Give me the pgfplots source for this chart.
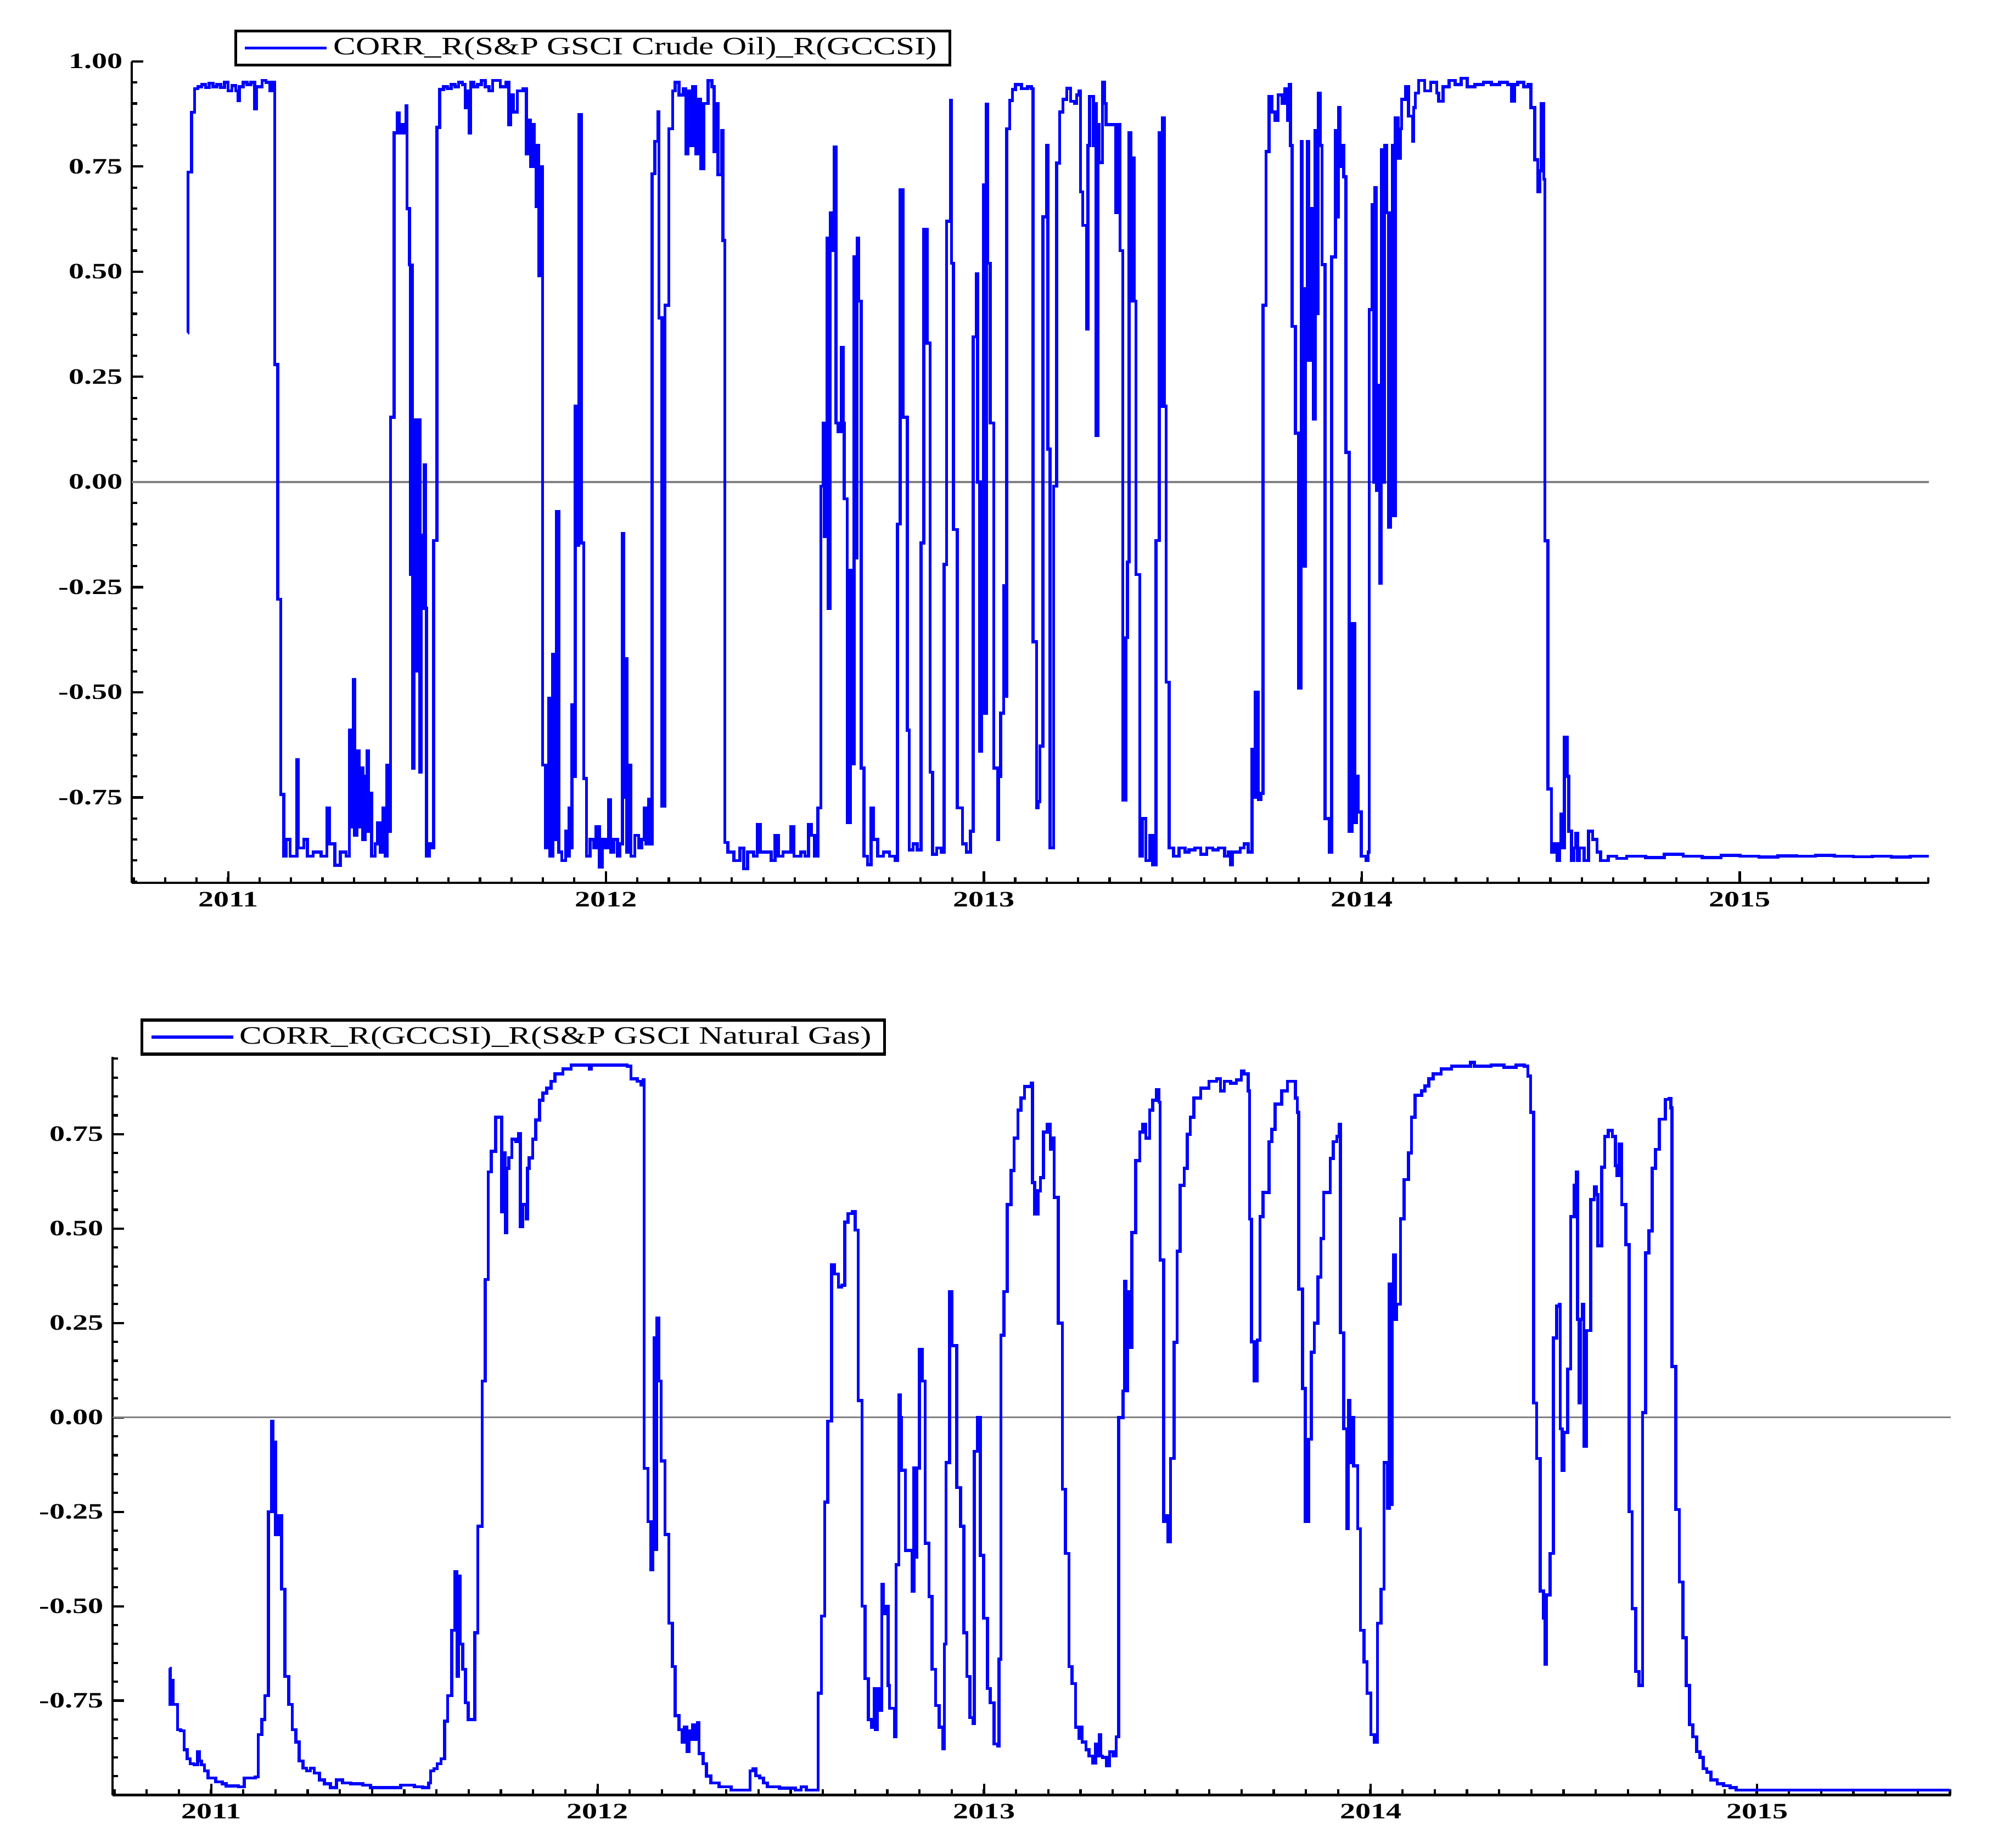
\documentclass[border=0pt]{standalone}
\usepackage{fontspec}
\setmainfont{Liberation Serif}
\newfontfamily\legfont[FakeStretch=1.34]{Liberation Serif}
\newfontfamily\tickfont[FakeStretch=1.4]{Liberation Serif}
\usepackage{pgfplots}
\pgfplotsset{compat=1.18}

% common look of both panels
\pgfplotsset{corrax/.style={
  scale only axis,
  anchor=south west,
  xmin=2010.745, xmax=2015.5,
  axis lines=left,
  axis line style={-, line width=0.9pt},
  tick align=inside,
  xtick={2011,...,2015},
  minor xtick={2010.75,2010.8333,...,2015.5},
  major tick length=4.5pt, minor tick length=2.2pt,
  tick style={black, line width=0.9pt},
  /pgf/number format/assume math mode=true,
  tick label style={font=\tickfont\bfseries\fontsize{8.6}{10}\selectfont},
  xticklabel style={/pgf/number format/1000 sep=},
  yticklabel style={/pgf/number format/.cd, fixed, fixed zerofill, precision=2},
  legend cell align=left,
  legend style={draw=black, line width=1.1pt, anchor=south west,
    font=\legfont\fontsize{9.8}{11}\selectfont, inner xsep=3pt, inner ysep=0.5pt},
}}
\pgfplotsset{corrline/.style={blue, line width=1.2pt, const plot,
  legend image code/.code={\draw[##1] (0pt,0pt) -- (32pt,0pt);}}}

\begin{document}
\begin{tikzpicture}
\path[use as bounding box] (0,0) rectangle (781pt,-722pt);

% ---------- upper panel: crude oil vs GCCSI
\begin{axis}[corrax,
  at={(51.5pt,-345pt)}, width=702.5pt, height=321pt,
  ymin=-0.953, ymax=1,
  ytick={-0.75,-0.5,...,1}, minor ytick={-0.95,-0.9,...,1},
  legend style={at={(0.057,0.9938)}},
]
\addplot[gray, line width=0.7pt, forget plot] coordinates {(2010.745,0) (2015.5,0)};
\addplot[corrline] table {
2010.893 0.355
2010.894 0.737
2010.903 0.879
2010.911 0.935
2010.920 0.940
2010.930 0.945
2010.940 0.938
2010.950 0.948
2010.960 0.940
2010.970 0.945
2010.980 0.938
2010.990 0.950
2011.000 0.930
2011.010 0.942
2011.020 0.930
2011.026 0.907
2011.030 0.940
2011.040 0.950
2011.050 0.945
2011.060 0.950
2011.070 0.887
2011.075 0.940
2011.090 0.955
2011.100 0.950
2011.110 0.930
2011.115 0.950
2011.123 0.279
2011.131 -0.279
2011.139 -0.743
2011.147 -0.889
2011.154 -0.850
2011.164 -0.890
2011.182 -0.660
2011.186 -0.870
2011.200 -0.850
2011.210 -0.890
2011.225 -0.880
2011.246 -0.890
2011.261 -0.775
2011.268 -0.860
2011.282 -0.911
2011.297 -0.880
2011.312 -0.890
2011.321 -0.590
2011.326 -0.820
2011.331 -0.470
2011.335 -0.840
2011.340 -0.640
2011.346 -0.820
2011.350 -0.680
2011.356 -0.850
2011.362 -0.700
2011.367 -0.640
2011.371 -0.830
2011.377 -0.740
2011.380 -0.890
2011.389 -0.860
2011.395 -0.810
2011.402 -0.880
2011.410 -0.775
2011.415 -0.890
2011.420 -0.673
2011.427 -0.830
2011.430 0.154
2011.439 0.830
2011.447 0.877
2011.453 0.830
2011.461 0.850
2011.466 0.830
2011.471 0.894
2011.473 0.650
2011.480 0.516
2011.482 -0.220
2011.486 0.516
2011.488 -0.680
2011.492 0.148
2011.497 -0.450
2011.501 0.148
2011.507 -0.690
2011.511 -0.126
2011.515 -0.300
2011.518 0.040
2011.522 -0.300
2011.525 -0.889
2011.533 -0.860
2011.541 -0.870
2011.544 -0.139
2011.552 0.843
2011.560 0.933
2011.570 0.940
2011.580 0.935
2011.590 0.945
2011.600 0.940
2011.610 0.950
2011.620 0.945
2011.627 0.890
2011.632 0.930
2011.638 0.830
2011.642 0.950
2011.650 0.940
2011.660 0.945
2011.670 0.955
2011.680 0.940
2011.690 0.930
2011.700 0.955
2011.720 0.940
2011.735 0.950
2011.743 0.850
2011.748 0.920
2011.755 0.880
2011.765 0.930
2011.780 0.935
2011.789 0.780
2011.795 0.860
2011.800 0.750
2011.805 0.850
2011.810 0.750
2011.815 0.655
2011.818 0.800
2011.822 0.490
2011.828 0.750
2011.832 -0.673
2011.840 -0.870
2011.848 -0.514
2011.852 -0.890
2011.859 -0.410
2011.863 -0.850
2011.868 -0.070
2011.875 -0.880
2011.883 -0.900
2011.893 -0.830
2011.897 -0.890
2011.902 -0.775
2011.906 -0.870
2011.910 -0.530
2011.914 -0.700
2011.918 0.180
2011.922 -0.150
2011.928 0.873
2011.934 -0.145
2011.941 -0.705
2011.948 -0.890
2011.958 -0.850
2011.968 -0.870
2011.974 -0.820
2011.982 -0.915
2011.990 -0.850
2011.998 -0.870
2012.006 -0.756
2012.012 -0.880
2012.020 -0.850
2012.030 -0.890
2012.037 -0.860
2012.043 -0.122
2012.047 -0.750
2012.050 -0.420
2012.055 -0.880
2012.060 -0.673
2012.066 -0.890
2012.076 -0.840
2012.086 -0.870
2012.094 -0.850
2012.101 -0.775
2012.106 -0.860
2012.112 -0.755
2012.119 -0.860
2012.122 0.733
2012.129 0.810
2012.137 0.880
2012.140 0.390
2012.148 -0.770
2012.156 0.420
2012.166 0.840
2012.176 0.930
2012.183 0.950
2012.193 0.920
2012.204 0.935
2012.211 0.780
2012.216 0.930
2012.224 0.800
2012.229 0.940
2012.237 0.780
2012.244 0.910
2012.250 0.745
2012.258 0.900
2012.270 0.955
2012.280 0.940
2012.286 0.785
2012.293 0.900
2012.296 0.730
2012.306 0.835
2012.309 0.574
2012.314 -0.857
2012.322 -0.880
2012.338 -0.900
2012.354 -0.870
2012.364 -0.920
2012.374 -0.880
2012.390 -0.890
2012.400 -0.815
2012.408 -0.880
2012.421 -0.880
2012.437 -0.900
2012.447 -0.840
2012.456 -0.890
2012.468 -0.880
2012.481 -0.880
2012.489 -0.820
2012.497 -0.890
2012.515 -0.880
2012.526 -0.890
2012.536 -0.815
2012.543 -0.840
2012.552 -0.890
2012.560 -0.775
2012.568 -0.010
2012.575 0.140
2012.578 -0.130
2012.581 0.140
2012.585 0.580
2012.588 -0.300
2012.593 0.640
2012.597 0.550
2012.604 0.796
2012.608 0.140
2012.614 0.120
2012.623 0.320
2012.627 0.140
2012.630 -0.040
2012.638 -0.810
2012.646 -0.210
2012.650 -0.670
2012.656 0.535
2012.659 -0.180
2012.664 0.580
2012.668 0.430
2012.675 -0.680
2012.682 -0.890
2012.692 -0.910
2012.701 -0.775
2012.708 -0.850
2012.719 -0.890
2012.734 -0.880
2012.750 -0.890
2012.765 -0.900
2012.771 -0.100
2012.778 0.695
2012.786 0.154
2012.797 -0.590
2012.802 -0.875
2012.812 -0.860
2012.823 -0.875
2012.833 -0.145
2012.841 0.600
2012.849 0.330
2012.857 -0.690
2012.864 -0.885
2012.875 -0.870
2012.887 -0.880
2012.894 -0.196
2012.901 0.620
2012.911 0.907
2012.914 0.520
2012.919 -0.113
2012.929 -0.775
2012.943 -0.860
2012.953 -0.880
2012.964 -0.830
2012.971 0.345
2012.979 0.495
2012.983 0.000
2012.988 -0.640
2012.993 0.000
2012.998 0.707
2013.002 -0.550
2013.006 0.898
2013.010 0.520
2013.016 0.140
2013.026 -0.680
2013.036 -0.850
2013.039 -0.700
2013.044 -0.550
2013.052 -0.247
2013.056 -0.510
2013.060 0.840
2013.068 0.907
2013.075 0.933
2013.083 0.945
2013.099 0.935
2013.115 0.940
2013.125 0.935
2013.130 -0.380
2013.139 -0.775
2013.143 -0.760
2013.148 -0.628
2013.156 0.630
2013.165 0.800
2013.169 0.078
2013.175 -0.870
2013.184 -0.010
2013.192 0.758
2013.200 0.880
2013.209 0.910
2013.219 0.936
2013.229 0.905
2013.240 0.900
2013.245 0.920
2013.252 0.930
2013.255 0.690
2013.261 0.610
2013.271 0.364
2013.275 0.800
2013.279 0.917
2013.289 0.800
2013.292 0.900
2013.297 0.110
2013.301 0.850
2013.304 0.760
2013.313 0.950
2013.318 0.900
2013.323 0.850
2013.339 0.850
2013.349 0.640
2013.352 0.850
2013.360 0.550
2013.367 -0.756
2013.375 -0.370
2013.379 -0.190
2013.384 0.830
2013.388 0.430
2013.393 0.770
2013.397 0.430
2013.402 -0.220
2013.412 -0.890
2013.419 -0.800
2013.428 -0.900
2013.438 -0.840
2013.446 -0.910
2013.455 -0.139
2013.464 0.830
2013.468 0.180
2013.472 0.866
2013.477 0.180
2013.482 -0.476
2013.490 -0.870
2013.501 -0.890
2013.516 -0.870
2013.532 -0.880
2013.542 -0.875
2013.558 -0.870
2013.573 -0.885
2013.589 -0.870
2013.605 -0.875
2013.620 -0.870
2013.636 -0.890
2013.647 -0.880
2013.652 -0.910
2013.657 -0.880
2013.667 -0.880
2013.678 -0.870
2013.688 -0.860
2013.699 -0.880
2013.709 -0.635
2013.714 -0.750
2013.718 -0.500
2013.726 -0.755
2013.732 -0.740
2013.738 0.420
2013.746 0.786
2013.754 0.917
2013.762 0.880
2013.770 0.860
2013.778 0.920
2013.788 0.900
2013.796 0.935
2013.803 0.860
2013.807 0.945
2013.811 0.800
2013.815 0.370
2013.824 0.116
2013.832 -0.490
2013.839 0.810
2013.842 -0.200
2013.850 0.460
2013.855 0.810
2013.859 0.290
2013.863 0.450
2013.866 0.650
2013.871 0.150
2013.876 0.835
2013.880 0.400
2013.884 0.924
2013.889 0.800
2013.894 0.517
2013.902 -0.800
2013.913 -0.880
2013.920 0.535
2013.930 0.835
2013.934 0.630
2013.938 0.890
2013.942 0.750
2013.947 0.800
2013.952 0.726
2013.957 0.070
2013.966 -0.830
2013.973 -0.336
2013.981 -0.810
2013.985 -0.700
2013.989 -0.785
2013.998 -0.890
2014.011 -0.900
2014.016 -0.880
2014.019 0.410
2014.027 0.660
2014.031 0.000
2014.034 0.700
2014.038 -0.020
2014.043 0.230
2014.047 -0.240
2014.051 0.790
2014.055 0.000
2014.060 0.800
2014.065 0.640
2014.070 -0.107
2014.075 0.640
2014.080 0.800
2014.084 -0.080
2014.088 0.866
2014.096 0.770
2014.101 0.840
2014.105 0.910
2014.116 0.940
2014.123 0.870
2014.134 0.810
2014.137 0.890
2014.141 0.925
2014.150 0.955
2014.166 0.930
2014.182 0.950
2014.198 0.925
2014.203 0.905
2014.214 0.940
2014.230 0.955
2014.246 0.945
2014.262 0.960
2014.278 0.940
2014.299 0.945
2014.321 0.950
2014.342 0.945
2014.364 0.950
2014.385 0.945
2014.396 0.905
2014.403 0.945
2014.412 0.950
2014.428 0.940
2014.439 0.945
2014.447 0.890
2014.457 0.766
2014.465 0.690
2014.470 0.740
2014.474 0.900
2014.481 0.720
2014.484 -0.140
2014.492 -0.730
2014.501 -0.880
2014.508 -0.860
2014.516 -0.900
2014.522 -0.860
2014.526 -0.790
2014.530 -0.870
2014.535 -0.607
2014.543 -0.700
2014.547 -0.830
2014.554 -0.900
2014.560 -0.870
2014.565 -0.835
2014.570 -0.900
2014.575 -0.870
2014.588 -0.900
2014.599 -0.830
2014.610 -0.850
2014.622 -0.880
2014.631 -0.900
2014.652 -0.890
2014.674 -0.895
2014.700 -0.890
2014.750 -0.893
2014.800 -0.885
2014.850 -0.890
2014.900 -0.893
2014.950 -0.888
2015.000 -0.890
2015.050 -0.892
2015.100 -0.889
2015.150 -0.890
2015.200 -0.888
2015.250 -0.890
2015.300 -0.891
2015.350 -0.890
2015.400 -0.892
2015.450 -0.890
2015.495 -0.887
};
\addlegendentry{CORR\_R(S\&P GSCI Crude Oil)\_R(GCCSI)}
\end{axis}

% ---------- lower panel: GCCSI vs natural gas
\begin{axis}[corrax,
  at={(44pt,-701.5pt)}, width=718.5pt, height=288.5pt,
  ymin=-1, ymax=0.955,
  ytick={-0.75,-0.5,...,0.75}, minor ytick={-1,-0.95,...,0.95},
  legend style={at={(0.0153,1.0017)}},
]
\addplot[gray, line width=0.7pt, forget plot] coordinates {(2010.745,0) (2015.5,0)};
\addplot[corrline] table {
2010.892 -0.664
2010.894 -0.760
2010.897 -0.696
2010.902 -0.760
2010.913 -0.827
2010.921 -0.830
2010.930 -0.880
2010.938 -0.904
2010.946 -0.917
2010.956 -0.920
2010.965 -0.885
2010.970 -0.910
2010.975 -0.920
2010.983 -0.936
2010.992 -0.955
2011.004 -0.955
2011.012 -0.965
2011.029 -0.970
2011.039 -0.976
2011.060 -0.975
2011.070 -0.978
2011.086 -0.955
2011.102 -0.955
2011.114 -0.952
2011.122 -0.840
2011.131 -0.800
2011.139 -0.737
2011.148 -0.250
2011.156 -0.010
2011.160 -0.250
2011.164 -0.065
2011.167 -0.310
2011.174 -0.260
2011.182 -0.455
2011.191 -0.686
2011.201 -0.760
2011.210 -0.827
2011.219 -0.860
2011.228 -0.910
2011.238 -0.929
2011.247 -0.936
2011.257 -0.929
2011.267 -0.942
2011.280 -0.960
2011.293 -0.970
2011.309 -0.980
2011.324 -0.960
2011.340 -0.968
2011.361 -0.970
2011.392 -0.974
2011.412 -0.980
2011.444 -0.980
2011.464 -0.980
2011.490 -0.974
2011.526 -0.978
2011.547 -0.980
2011.563 -0.968
2011.568 -0.936
2011.576 -0.930
2011.585 -0.917
2011.595 -0.904
2011.604 -0.804
2011.612 -0.737
2011.622 -0.564
2011.630 -0.408
2011.636 -0.686
2011.640 -0.420
2011.644 -0.600
2011.651 -0.667
2011.658 -0.756
2011.665 -0.800
2011.674 -0.800
2011.682 -0.570
2011.690 -0.288
2011.701 0.096
2011.709 0.365
2011.717 0.650
2011.725 0.705
2011.736 0.795
2011.746 0.795
2011.752 0.545
2011.756 0.700
2011.761 0.490
2011.765 0.660
2011.770 0.688
2011.778 0.737
2011.788 0.730
2011.796 0.752
2011.800 0.506
2011.806 0.564
2011.815 0.525
2011.818 0.660
2011.823 0.687
2011.832 0.737
2011.840 0.788
2011.850 0.840
2011.858 0.859
2011.868 0.872
2011.879 0.890
2011.889 0.910
2011.910 0.923
2011.931 0.933
2011.978 0.923
2011.984 0.933
2012.034 0.933
2012.076 0.930
2012.086 0.897
2012.102 0.890
2012.112 0.880
2012.118 0.894
2012.120 -0.135
2012.130 -0.276
2012.138 -0.404
2012.142 -0.282
2012.146 0.210
2012.150 -0.350
2012.153 0.263
2012.158 0.096
2012.164 -0.115
2012.174 -0.310
2012.184 -0.545
2012.193 -0.660
2012.200 -0.790
2012.210 -0.827
2012.219 -0.860
2012.224 -0.820
2012.231 -0.885
2012.236 -0.830
2012.241 -0.853
2012.246 -0.814
2012.254 -0.853
2012.258 -0.808
2012.262 -0.890
2012.273 -0.917
2012.281 -0.950
2012.293 -0.968
2012.314 -0.978
2012.345 -0.987
2012.389 -0.987
2012.394 -0.936
2012.401 -0.930
2012.409 -0.949
2012.419 -0.955
2012.429 -0.968
2012.439 -0.978
2012.470 -0.982
2012.511 -0.987
2012.526 -0.978
2012.540 -0.987
2012.570 -0.730
2012.579 -0.526
2012.587 -0.224
2012.595 -0.010
2012.605 0.404
2012.613 0.380
2012.623 0.346
2012.631 0.350
2012.639 0.517
2012.648 0.540
2012.659 0.545
2012.666 0.496
2012.674 0.045
2012.684 -0.500
2012.692 -0.692
2012.700 -0.800
2012.709 -0.820
2012.715 -0.718
2012.719 -0.827
2012.723 -0.718
2012.727 -0.775
2012.735 -0.442
2012.739 -0.520
2012.743 -0.500
2012.751 -0.710
2012.755 -0.770
2012.759 -0.770
2012.768 -0.846
2012.772 -0.390
2012.779 0.060
2012.783 0.000
2012.786 -0.140
2012.796 -0.352
2012.806 -0.352
2012.814 -0.460
2012.818 -0.134
2012.822 -0.370
2012.826 -0.134
2012.832 0.180
2012.839 0.096
2012.847 -0.333
2012.857 -0.474
2012.865 -0.667
2012.874 -0.763
2012.883 -0.820
2012.893 -0.878
2012.897 -0.600
2012.901 -0.120
2012.910 0.333
2012.916 0.190
2012.929 -0.186
2012.939 -0.288
2012.947 -0.570
2012.955 -0.686
2012.963 -0.795
2012.971 -0.810
2012.974 -0.090
2012.982 0.000
2012.990 -0.365
2012.998 -0.532
2013.008 -0.718
2013.015 -0.756
2013.025 -0.865
2013.035 -0.870
2013.038 -0.640
2013.043 0.218
2013.051 0.333
2013.059 0.564
2013.069 0.654
2013.077 0.740
2013.087 0.814
2013.095 0.846
2013.104 0.876
2013.122 0.885
2013.125 0.622
2013.130 0.538
2013.139 0.600
2013.145 0.635
2013.153 0.756
2013.163 0.776
2013.171 0.710
2013.178 0.740
2013.181 0.583
2013.191 0.250
2013.202 -0.190
2013.210 -0.360
2013.219 -0.660
2013.227 -0.705
2013.236 -0.820
2013.245 -0.850
2013.249 -0.820
2013.253 -0.860
2013.263 -0.880
2013.271 -0.897
2013.281 -0.915
2013.288 -0.865
2013.292 -0.897
2013.297 -0.840
2013.301 -0.897
2013.306 -0.900
2013.316 -0.923
2013.324 -0.885
2013.333 -0.897
2013.341 -0.846
2013.348 0.000
2013.359 0.070
2013.363 0.360
2013.367 0.070
2013.371 0.333
2013.375 0.186
2013.382 0.490
2013.392 0.680
2013.402 0.756
2013.410 0.776
2013.418 0.740
2013.428 0.814
2013.436 0.840
2013.446 0.868
2013.452 0.835
2013.455 0.417
2013.464 -0.276
2013.470 -0.260
2013.475 -0.330
2013.482 -0.109
2013.491 0.199
2013.499 0.440
2013.507 0.615
2013.517 0.660
2013.525 0.750
2013.533 0.795
2013.542 0.846
2013.560 0.872
2013.581 0.890
2013.601 0.897
2013.611 0.865
2013.621 0.890
2013.637 0.885
2013.652 0.894
2013.665 0.917
2013.672 0.910
2013.683 0.865
2013.686 0.525
2013.691 0.200
2013.698 0.096
2013.706 0.205
2013.713 0.532
2013.721 0.596
2013.737 0.730
2013.744 0.763
2013.752 0.830
2013.769 0.865
2013.784 0.890
2013.797 0.890
2013.805 0.846
2013.810 0.808
2013.813 0.340
2013.823 0.077
2013.830 -0.276
2013.839 -0.058
2013.846 0.173
2013.854 0.250
2013.863 0.372
2013.871 0.474
2013.878 0.596
2013.895 0.686
2013.903 0.730
2013.912 0.744
2013.918 0.776
2013.921 0.224
2013.930 -0.030
2013.938 -0.295
2013.942 0.045
2013.946 -0.120
2013.951 0.000
2013.955 -0.128
2013.966 -0.295
2013.973 -0.564
2013.982 -0.647
2013.990 -0.730
2014.000 -0.840
2014.009 -0.860
2014.017 -0.545
2014.026 -0.455
2014.034 -0.120
2014.043 -0.240
2014.048 0.353
2014.052 -0.230
2014.055 0.353
2014.059 0.430
2014.063 0.260
2014.067 0.300
2014.077 0.526
2014.086 0.630
2014.097 0.700
2014.105 0.795
2014.114 0.853
2014.131 0.865
2014.140 0.878
2014.150 0.897
2014.161 0.910
2014.182 0.923
2014.209 0.930
2014.250 0.930
2014.258 0.940
2014.268 0.930
2014.311 0.933
2014.344 0.927
2014.376 0.933
2014.397 0.930
2014.406 0.904
2014.413 0.808
2014.421 0.038
2014.429 -0.109
2014.438 -0.460
2014.447 -0.532
2014.451 -0.654
2014.454 -0.470
2014.464 -0.360
2014.472 0.210
2014.481 0.295
2014.487 0.300
2014.490 -0.030
2014.495 -0.140
2014.499 -0.040
2014.509 0.128
2014.517 0.532
2014.526 0.615
2014.532 0.650
2014.535 0.260
2014.539 0.038
2014.542 0.260
2014.547 0.300
2014.551 -0.077
2014.558 0.230
2014.566 0.230
2014.569 0.577
2014.578 0.610
2014.583 0.590
2014.587 0.455
2014.597 0.663
2014.605 0.744
2014.614 0.760
2014.625 0.744
2014.633 0.667
2014.637 0.640
2014.642 0.724
2014.649 0.564
2014.660 0.458
2014.668 -0.250
2014.676 -0.506
2014.685 -0.673
2014.694 -0.710
2014.703 0.013
2014.711 0.436
2014.719 0.494
2014.728 0.660
2014.736 0.710
2014.746 0.790
2014.762 0.842
2014.771 0.845
2014.776 0.820
2014.779 0.135
2014.789 -0.244
2014.798 -0.436
2014.807 -0.583
2014.816 -0.710
2014.824 -0.814
2014.833 -0.846
2014.843 -0.885
2014.851 -0.900
2014.860 -0.930
2014.869 -0.940
2014.880 -0.960
2014.896 -0.970
2014.912 -0.975
2014.929 -0.980
2014.945 -0.987
2015.498 -0.987
};
\addlegendentry{CORR\_R(GCCSI)\_R(S\&P GSCI Natural Gas)}
\end{axis}
\end{tikzpicture}
\end{document}
